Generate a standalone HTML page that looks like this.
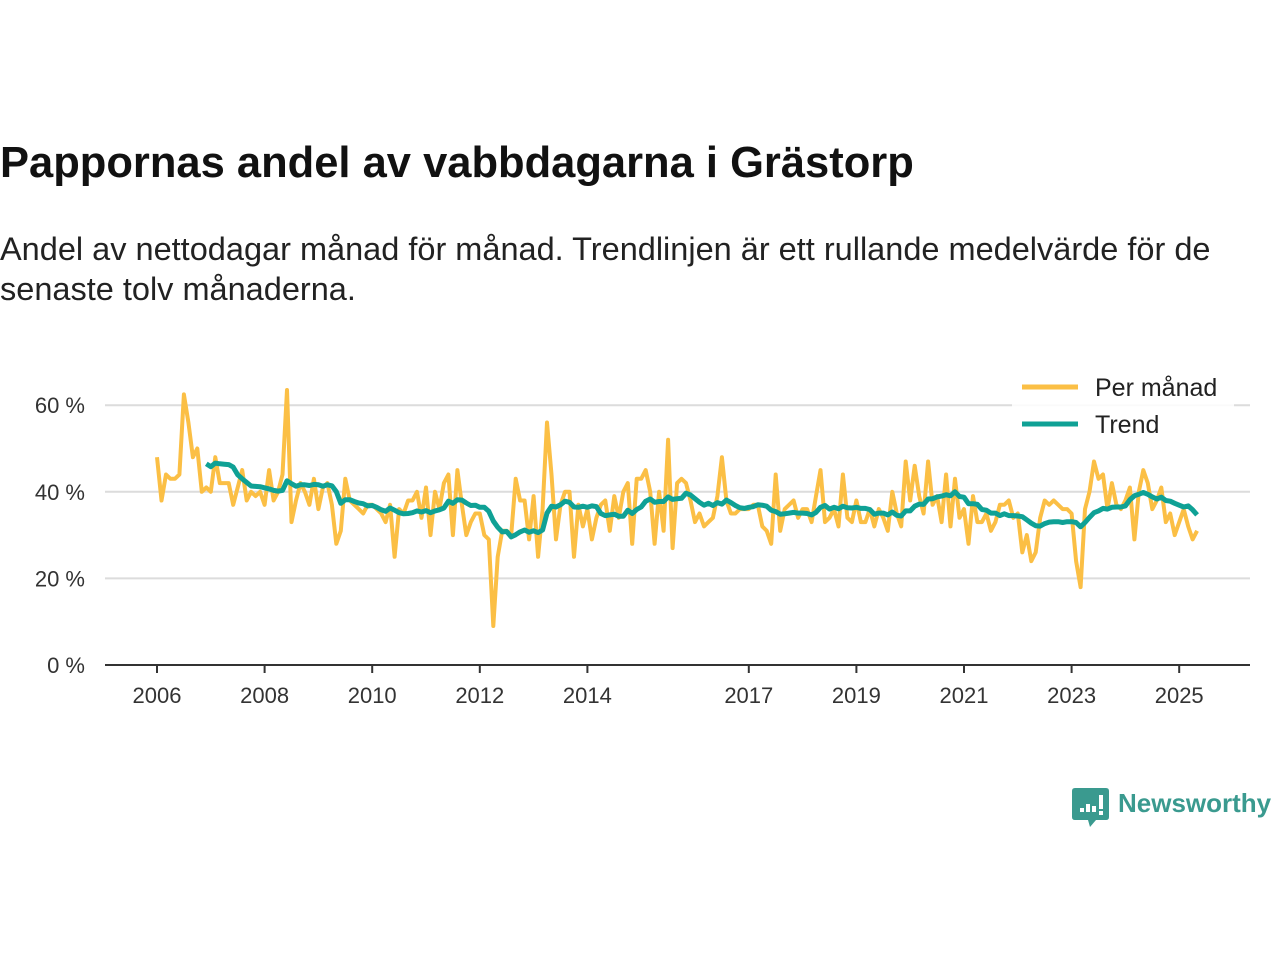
<!DOCTYPE html>
<html><head><meta charset="utf-8"><style>
body{margin:0;background:#fff;width:1280px;height:960px;overflow:hidden;font-family:"Liberation Sans",sans-serif;color:#111}
#title{position:absolute;left:0;top:139px;font-size:43.5px;font-weight:bold;margin:0;white-space:nowrap}
#sub{position:absolute;left:0;top:229px;font-size:32.5px;line-height:40px;width:1250px;color:#222}
svg{position:absolute;left:0;top:0}
</style></head><body>
<h1 id="title">Pappornas andel av vabbdagarna i Grästorp</h1>
<div id="sub">Andel av nettodagar månad för månad. Trendlinjen är ett rullande medelvärde för de senaste tolv månaderna.</div>
<svg id="chart" width="1280" height="960"></svg>
<script>
const startYear = 2006;
const yTicks = [0, 20, 40, 60];
const xTickYears = [2006, 2008, 2010, 2012, 2014, 2017, 2019, 2021, 2023, 2025];
const monthly = [
48,38,44,43,43,44,62.5,56,48,50,40,41,
40,48,42,42,42,37,41,45,38,40,39,40,
37,45,38,40,44,63.5,33,38,42,40,37,43,
36,41,42,37,28,31,43,38,37,36,35,37,
37,36,35,33,37,25,36,35,38,38,40,34,
41,30,40,36,42,44,30,45,37,30,33,35,
35,30,29,9,25,31,31,30,43,38,38,29,
39,25,36,56,44,29,37,40,40,25,37,32,
36,29,34,37,38,31,39,34,40,42,28,43,
43,45,40,28,40,31,52,27,42,43,42,38,
33,35,32,33,34,39,48,38,35,35,36,36,
36,37,37,32,31,28,44,31,36,37,38,34,
36,36,33,39,45,33,34,36,32,44,34,33,
38,33,33,36,32,36,34,31,40,35,32,47,
38,46,39,35,47,37,39,33,44,32,43,34,
36,28,39,33,33,35,31,33,37,37,38,34,
35,26,30,24,26,34,38,37,38,37,36,36,
35,24,18,36,40,47,43,44,36,42,37,36,
38,41,29,40,45,42,36,38,41,33,35,30,
33,36,32,29,31
];
const seriesNames = ["Per månad", "Trend"];

const NS="http://www.w3.org/2000/svg";
const svg=document.getElementById('chart');
const X0=157, PXY=53.8, Y0=665, PXP=4.33;
const xs=m=>X0+(m/12)*PXY;
const ys=v=>Y0-v*PXP;
function mk(t,a){const e=document.createElementNS(NS,t);for(const k in a)e.setAttribute(k,a[k]);svg.appendChild(e);return e;}

yTicks.forEach(v=>{
  if(v>0){const g=mk('line',{x1:105,x2:1250,y1:ys(v),y2:ys(v),stroke:'#dcdcdc','stroke-width':2});
  
  }
  const t=mk('text',{x:85,y:ys(v)+8,'text-anchor':'end','font-size':22,fill:'#333','font-family':'Liberation Sans, sans-serif'});
  t.textContent=v+' %';
  
  
});
const ax=mk('line',{x1:105,x2:1250,y1:Y0,y2:Y0,stroke:'#333','stroke-width':2});


xTickYears.forEach(yr=>{
  const x=xs((yr-startYear)*12);
  const tk=mk('line',{x1:x,x2:x,y1:Y0,y2:Y0+8,stroke:'#333','stroke-width':2});
  
  
  const t=mk('text',{x:x,y:703,'text-anchor':'middle','font-size':22,fill:'#333','font-family':'Liberation Sans, sans-serif'});
  t.textContent=yr;
  
  
});

const mp=monthly.map((v,i)=>xs(i).toFixed(1)+','+ys(v).toFixed(1)).join(' ');
const l1=mk('polyline',{points:mp,fill:'none',stroke:'#fbbf45','stroke-width':4,'stroke-linejoin':'round'});



const trend=[];
for(let i=11;i<monthly.length;i++){let s=0;for(let j=i-11;j<=i;j++)s+=monthly[j];trend.push([i,s/12]);}
const tp=trend.map(([i,v])=>xs(i).toFixed(1)+','+ys(v).toFixed(1)).join(' ');
const l2=mk('polyline',{points:tp,fill:'none',stroke:'#0fa195','stroke-width':5,'stroke-linejoin':'round'});



const lg=mk('rect',{x:1012,y:368,width:222,height:78,fill:'#fff',opacity:0.85});


[['#fbbf45',387],['#0fa195',424]].forEach((c,k)=>{
  const l=mk('line',{x1:1022,x2:1078,y1:c[1],y2:c[1],stroke:c[0],'stroke-width':5});
  
  
  const t=mk('text',{x:1095,y:c[1]+9,'font-size':25,fill:'#222','font-family':'Liberation Sans, sans-serif'});
  t.textContent=seriesNames[k];
  
  
});

const logo=mk('path',{d:'M1075 788 h31 q3 0 3 3 v26 q0 3 -3 3 h-10 l-6 7 l-2 -7 h-13 q-3 0 -3 -3 v-26 q0 -3 3 -3 z',fill:'#3a9a8f'});


[[1080,808,4],[1086,804,8],[1092,806,6]].forEach(b=>{mk('rect',{x:b[0],y:b[1],width:4,height:b[2],fill:'#fff'});});
mk('rect',{x:1099,y:795,width:4,height:14,fill:'#fff'});
mk('rect',{x:1099,y:811,width:4,height:4,fill:'#fff'});
const lt=mk('text',{x:1118,y:812,'font-size':26,'font-weight':'bold',fill:'#3a9a8f','font-family':'Liberation Sans, sans-serif'});
lt.textContent='Newsworthy';


</script>
</body></html>
